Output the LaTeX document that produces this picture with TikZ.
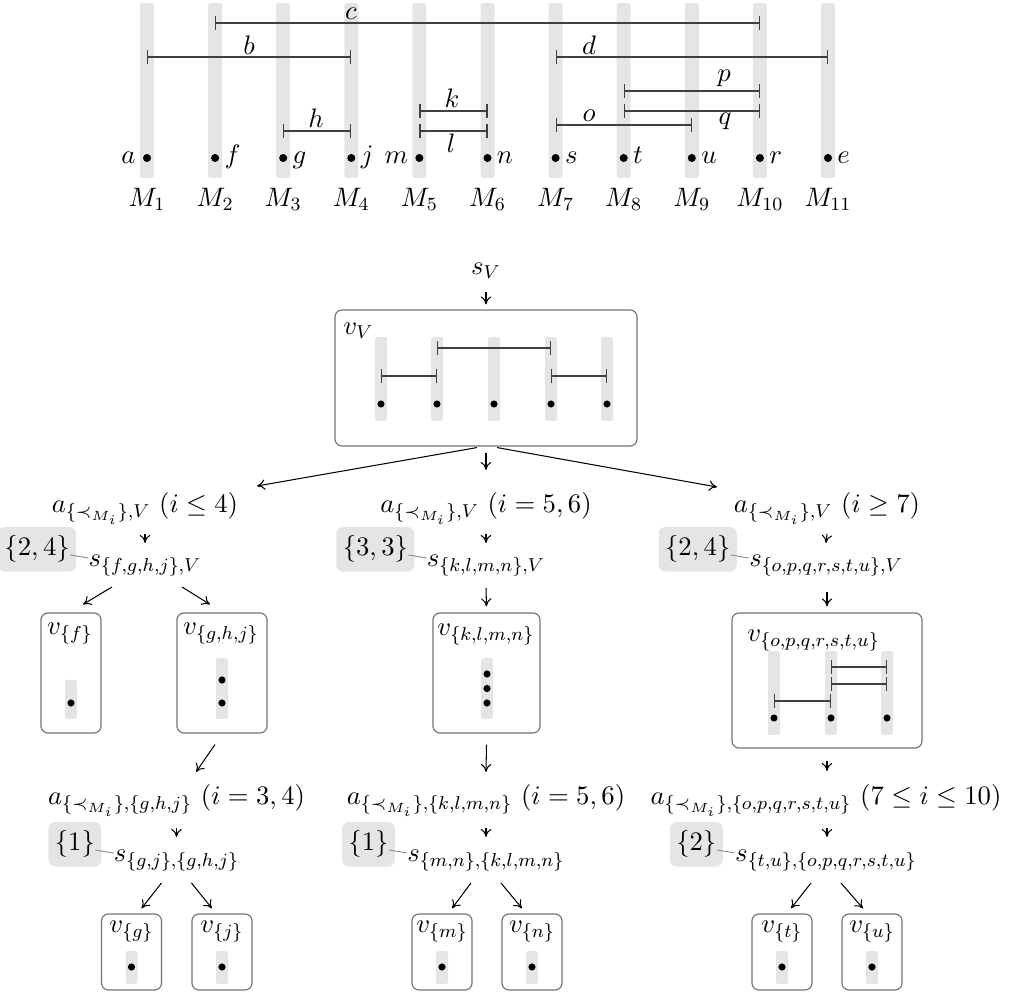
\RequirePackage{fix-cm}
\documentclass[tikz,border=0pt]{standalone}
\usetikzlibrary{fit,backgrounds,arrows.meta}
\begin{document}
\begin{tikzpicture}[x=0.4346pt,y=-0.4346pt,
  font=\fontsize{11.6}{14}\selectfont,
  bar/.style={fill=black!10, rounded corners=1pt},
  ival/.style={draw=black!75, line width=0.5pt, arrows={Bar[width=6pt,line width=0.5pt]-Bar[width=6pt,line width=0.5pt]}},
  topdot/.style={circle, fill=black, inner sep=0pt, minimum size=3.5pt},
  tdot/.style={circle, fill=black, inner sep=0pt, minimum size=3.1pt},
  lab/.style={inner sep=0pt},
  vbox/.style={draw=black!55, rounded corners=3pt, inner sep=0pt, line width=0.5pt},
  arr/.style={-{To[length=3.5pt,width=4.5pt]}, line width=0.45pt},
  tag/.style={inner sep=0pt},
  tagbg/.style={fill=black!10, rounded corners=3pt, inner xsep=2.6pt, inner ysep=3.7pt, minimum width=23pt, minimum height=17.4pt},
  pinline/.style={draw=black!45, line width=0.4pt},
]
\useasboundingbox (0,0) rectangle (1013,992);

% ---------------- top: machines ----------------
\foreach \i in {1,...,11} {
  \pgfmathsetmacro\xx{147+68.1*(\i-1)}
  \fill[bar] (\xx-7,3) rectangle (\xx+7,178);
  \node[topdot] (d\i) at (\xx,158) {};
  \node[lab, anchor=base] (M\i) at (\xx,207) {$M_{\i}$};
}
\node[lab, anchor=base east] (la) at ([shift={(-11,6)}]d1.center) {$a$};
\node[lab, anchor=base west] (lf) at ([shift={(9,6)}]d2.center) {$f$};
\node[lab, anchor=base west] (lg) at ([shift={(9,6)}]d3.center) {$g$};
\node[lab, anchor=base west] (lj) at ([shift={(9,6)}]d4.center) {$j$};
\node[lab, anchor=base east] (lm) at ([shift={(-11,6)}]d5.center) {$m$};
\node[lab, anchor=base west] (ln) at ([shift={(9,6)}]d6.center) {$n$};
\node[lab, anchor=base west] (ls) at ([shift={(9,6)}]d7.center) {$s$};
\node[lab, anchor=base west] (lt) at ([shift={(9,6)}]d8.center) {$t$};
\node[lab, anchor=base west] (lu) at ([shift={(9,6)}]d9.center) {$u$};
\node[lab, anchor=base west] (lr) at ([shift={(9,6)}]d10.center) {$r$};
\node[lab, anchor=base west] (le) at ([shift={(9,6)}]d11.center) {$e$};

\draw[ival] (d2 |- 0,23) -- (d10 |- 0,23);
\draw[ival] (d1 |- 0,57) -- (d4 |- 0,57);
\draw[ival] (d7 |- 0,57) -- (d11 |- 0,57);
\draw[ival] (d8 |- 0,91) -- (d10 |- 0,91);
\draw[ival] (d8 |- 0,111) -- (d10 |- 0,111);
\draw[ival] (d5 |- 0,111) -- (d6 |- 0,111);
\draw[ival] (d7 |- 0,125) -- (d9 |- 0,125);
\draw[ival] (d3 |- 0,131) -- (d4 |- 0,131);
\draw[ival] (d5 |- 0,131) -- (d6 |- 0,131);
\node[lab, anchor=base] (lc) at (351,20) {$c$};
\node[lab, anchor=base] (lb) at (249,55) {$b$};
\node[lab, anchor=base] (ld) at (589,55) {$d$};
\node[lab, anchor=base] (lp) at (724,82) {$p$};
\node[lab, anchor=base] (lq) at (725,125) {$q$};
\node[lab, anchor=base] (lo) at (589,122) {$o$};
\node[lab, anchor=base] (lh) at (316,128) {$h$};
\node[lab, anchor=base] (lk) at (452,108) {$k$};
\node[lab, anchor=base] (ll) at (451,153) {$l$};

% ---------------- tree ----------------
\node[lab, anchor=base] (sV) at (486,275) {$s_V$};
\node[vbox, fit={(335,310) (637,446)}] (vV) {};
\node[lab, anchor=base west] (lvV) at (343,335) {$v_V$};
\foreach \x in {381,437,494,551,607} {
  \fill[bar] (\x-6,337) rectangle (\x+6,421);
  \node[tdot] (vVd\x) at (\x,404) {};
}
\draw[ival] (vVd437 |- 0,348) -- (vVd551 |- 0,348);
\draw[ival] (vVd381 |- 0,376) -- (vVd437 |- 0,376);
\draw[ival] (vVd551 |- 0,376) -- (vVd607 |- 0,376);

% level 1
\node[lab, anchor=base] (aL1) at (145,513) {$a_{\{\prec_{M_i}\},V}\ (i\le 4)$};
\node[lab, anchor=base] (aM1) at (486,513) {$a_{\{\prec_{M_i}\},V}\ (i=5,6)$};
\node[lab, anchor=base] (aR1) at (827,513) {$a_{\{\prec_{M_i}\},V}\ (i\ge 7)$};
\node[lab, anchor=base] (sL1) at (145,567) {$s_{\{f,g,h,j\},V}$};
\node[lab, anchor=base] (sM1) at (486,567) {$s_{\{k,l,m,n\},V}$};
\node[lab, anchor=base] (sR1) at (826,567) {$s_{\{o,p,q,r,s,t,u\},V}$};

\node[tag, anchor=base east] (tL1) at ([shift={(-18,-11)}]sL1.base west) {$\{2,4\}$};
\node[tag, anchor=base east] (tM1) at ([shift={(-18,-11)}]sM1.base west) {$\{3,3\}$};
\node[tag, anchor=base east] (tR1) at ([shift={(-18,-11)}]sR1.base west) {$\{2,4\}$};

% boxes level 1
\node[vbox, fit={(41,613) (101,733)}] (vF) {};
\node[lab, anchor=base] (lvF) at (70,635) {$v_{\{f\}}$};
\fill[bar] (65,680) rectangle (77,719);
\node[tdot] (vFd) at (71,703) {};

\node[vbox, fit={(177,613) (267,733)}] (vGHJ) {};
\node[lab, anchor=base] (lvGHJ) at (221,635) {$v_{\{g,h,j\}}$};
\fill[bar] (216,658) rectangle (228,719);
\node[tdot] (vGHJd1) at (222,680) {};
\node[tdot] (vGHJd2) at (222,703) {};

\node[vbox, fit={(433,613) (540,733)}] (vKLMN) {};
\node[lab, anchor=base] (lvKLMN) at (486,636) {$v_{\{k,l,m,n\}}$};
\fill[bar] (481,658) rectangle (493,719);
\node[tdot] (vKd1) at (487,674) {};
\node[tdot] (vKd2) at (487,688.5) {};
\node[tdot] (vKd3) at (487,703) {};

\node[vbox, fit={(732,613) (922,748)}] (vOU) {};
\node[lab, anchor=base west] (lvOU) at (747,642) {$v_{\{o,p,q,r,s,t,u\}}$};
\foreach \x in {774,831,887} {
  \fill[bar] (\x-6,651) rectangle (\x+6,735);
  \node[tdot] (vOd\x) at (\x,718) {};
}
\draw[ival] (vOd831 |- 0,667) -- (vOd887 |- 0,667);
\draw[ival] (vOd831 |- 0,684) -- (vOd887 |- 0,684);
\draw[ival] (vOd774 |- 0,701) -- (vOd831 |- 0,701);

% level 2
\node[lab, anchor=base] (aL2) at (176.5,805) {$a_{\{\prec_{M_i}\},\{g,h,j\}}\ (i=3,4)$};
\node[lab, anchor=base] (aM2) at (486,805) {$a_{\{\prec_{M_i}\},\{k,l,m,n\}}\ (i=5,6)$};
\node[lab, anchor=base] (aR2) at (826,805) {$a_{\{\prec_{M_i}\},\{o,p,q,r,s,t,u\}}\ (7\le i\le 10)$};
\node[lab, anchor=base] (sL2) at (176.5,862) {$s_{\{g,j\},\{g,h,j\}}$};
\node[lab, anchor=base] (sM2) at (486,862) {$s_{\{m,n\},\{k,l,m,n\}}$};
\node[lab, anchor=base] (sR2) at (826,862) {$s_{\{t,u\},\{o,p,q,r,s,t,u\}}$};

\node[tag, anchor=base east] (tL2) at ([shift={(-18,-11)}]sL2.base west) {$\{1\}$};
\node[tag, anchor=base east] (tM2) at ([shift={(-18,-11)}]sM2.base west) {$\{1\}$};
\node[tag, anchor=base east] (tR2) at ([shift={(-18,-11)}]sR2.base west) {$\{2\}$};

\begin{scope}[on background layer]
  \foreach \t in {L1,M1,R1,L2,M2,R2} {
    \node[tagbg, fit=(t\t)] (b\t) {};
  }
\end{scope}
\foreach \t in {L1,M1,R1,L2,M2,R2} {
  \draw[pinline] ([shift={(0,-1)}]t\t.base east) -- ([shift={(0,-9)}]s\t.base west);
}

% bottom boxes
\foreach \n/\x/\lbl in {vG/131.5/g, vJ/222/j, vM/442/m, vN/532/n, vT/782/t, vU/872/u} {
  \node[vbox, fit={(\x-30,914) (\x+30,990)}] (\n) {};
  \node[lab, anchor=base] (l\n) at (\x,933) {$v_{\{\lbl\}}$};
  \fill[bar] (\x-6,951) rectangle (\x+6,984);
  \node[tdot] (\n d) at (\x,967) {};
}

% ---------------- arrows ----------------
\draw[arr] ([shift={(0,17)}]sV.base) -- ([shift={(0,-5)}]vV.north);
\draw[arr] ([shift={(-9,1)}]vV.south) -- ([shift={(112,-27)}]aL1.base);
\draw[arr] ([shift={(0,6)}]vV.south) -- ([shift={(0,-43)}]aM1.base);
\draw[arr] ([shift={(11,1)}]vV.south) -- ([shift={(-110,-26)}]aR1.base);

\draw[arr] ([shift={(0,21)}]aL1.base) -- ([shift={(0,-24)}]sL1.base);
\draw[arr] ([shift={(0,21)}]aM1.base) -- ([shift={(0,-24)}]sM1.base);
\draw[arr] ([shift={(0,21)}]aR1.base) -- ([shift={(0,-24)}]sR1.base);

\draw[arr] ([shift={(-33,20)}]sL1.base) -- ([shift={(12,-8)}]vF.north);
\draw[arr] ([shift={(37,20)}]sL1.base) -- ([shift={(-12,-8)}]vGHJ.north);
\draw[arr] ([shift={(0,21)}]sM1.base) -- ([shift={(0,-6)}]vKLMN.north);
\draw[arr] ([shift={(1,25)}]sR1.base) -- ([shift={(0,-6)}]vOU.north);

\draw[arr] ([shift={(-7,11)}]vGHJ.south) -- ([shift={(19.5,-33)}]aL2.base);
\draw[arr] ([shift={(0,11)}]vKLMN.south) -- ([shift={(0,-33)}]aM2.base);
\draw[arr] ([shift={(0,12)}]vOU.south) -- ([shift={(1,-34)}]aR2.base);

\draw[arr] ([shift={(0,23)}]aL2.base) -- ([shift={(0,-25)}]sL2.base);
\draw[arr] ([shift={(0,23)}]aM2.base) -- ([shift={(0,-25)}]sM2.base);
\draw[arr] ([shift={(1,23)}]aR2.base) -- ([shift={(1,-25)}]sR2.base);

\draw[arr] ([shift={(-15,21)}]sL2.base) -- ([shift={(10,-5)}]vG.north);
\draw[arr] ([shift={(15,21)}]sL2.base) -- ([shift={(-10,-5)}]vJ.north);
\draw[arr] ([shift={(-15,21)}]sM2.base) -- ([shift={(10,-5)}]vM.north);
\draw[arr] ([shift={(15,21)}]sM2.base) -- ([shift={(-10,-5)}]vN.north);
\draw[arr] ([shift={(-15,21)}]sR2.base) -- ([shift={(9,-5)}]vT.north);
\draw[arr] ([shift={(15,21)}]sR2.base) -- ([shift={(-9,-5)}]vU.north);
\end{tikzpicture}
\end{document}
